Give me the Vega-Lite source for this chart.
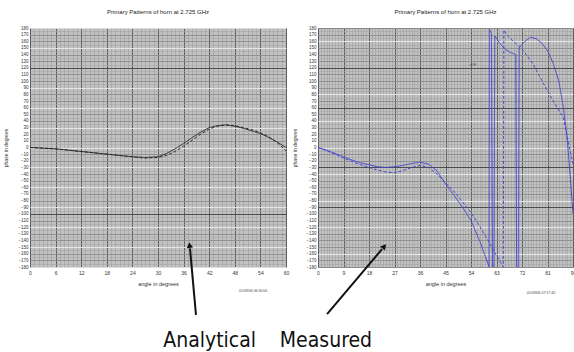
{
  "$schema": "https://vega.github.io/schema/vega-lite/v6.json",
  "background": "white",
  "padding": {"left": 3, "top": 8, "right": 0, "bottom": 0},
  "spacing": 32,
  "bounds": "flush",
  "config": {
    "view": {"fill": "#c2c2c2", "stroke": "#555", "strokeWidth": 1},
    "font": "Liberation Sans",
    "title": {"fontSize": 6, "fontWeight": "normal", "color": "#222", "offset": 10},
    "axis": {"ticks": false, "domain": false, "labelColor": "#333", "titleColor": "#333", "titleFontWeight": "normal", "labelOverlap": false, "labelBound": false, "labelFlush": false}
  },
  "datasets": {
    "analytical": [
      {"series": "A", "angle": 0, "phase": 0}, {"series": "A", "angle": 3, "phase": -1}, {"series": "A", "angle": 6, "phase": -2},
      {"series": "A", "angle": 9, "phase": -4}, {"series": "A", "angle": 12, "phase": -6}, {"series": "A", "angle": 15, "phase": -8},
      {"series": "A", "angle": 18, "phase": -10}, {"series": "A", "angle": 21, "phase": -12}, {"series": "A", "angle": 24, "phase": -14},
      {"series": "A", "angle": 27, "phase": -15}, {"series": "A", "angle": 30, "phase": -14}, {"series": "A", "angle": 32, "phase": -9},
      {"series": "A", "angle": 34, "phase": -2}, {"series": "A", "angle": 36, "phase": 6}, {"series": "A", "angle": 38, "phase": 15},
      {"series": "A", "angle": 40, "phase": 23}, {"series": "A", "angle": 42, "phase": 30}, {"series": "A", "angle": 44, "phase": 33},
      {"series": "A", "angle": 46, "phase": 34}, {"series": "A", "angle": 48, "phase": 32}, {"series": "A", "angle": 50, "phase": 29},
      {"series": "A", "angle": 52, "phase": 25}, {"series": "A", "angle": 54, "phase": 21}, {"series": "A", "angle": 56, "phase": 15},
      {"series": "A", "angle": 58, "phase": 8}, {"series": "A", "angle": 60, "phase": 0},
      {"series": "B", "angle": 0, "phase": 0}, {"series": "B", "angle": 3, "phase": -1}, {"series": "B", "angle": 6, "phase": -2},
      {"series": "B", "angle": 9, "phase": -4}, {"series": "B", "angle": 12, "phase": -6}, {"series": "B", "angle": 15, "phase": -8},
      {"series": "B", "angle": 18, "phase": -10}, {"series": "B", "angle": 21, "phase": -12}, {"series": "B", "angle": 24, "phase": -14},
      {"series": "B", "angle": 27, "phase": -16}, {"series": "B", "angle": 30, "phase": -15}, {"series": "B", "angle": 32, "phase": -12},
      {"series": "B", "angle": 34, "phase": -6}, {"series": "B", "angle": 36, "phase": 2}, {"series": "B", "angle": 38, "phase": 11},
      {"series": "B", "angle": 40, "phase": 20}, {"series": "B", "angle": 42, "phase": 28}, {"series": "B", "angle": 44, "phase": 32},
      {"series": "B", "angle": 46, "phase": 34}, {"series": "B", "angle": 48, "phase": 33}, {"series": "B", "angle": 50, "phase": 30},
      {"series": "B", "angle": 52, "phase": 27}, {"series": "B", "angle": 54, "phase": 22}, {"series": "B", "angle": 56, "phase": 16},
      {"series": "B", "angle": 58, "phase": 7}, {"series": "B", "angle": 60, "phase": -5}
    ],
    "measured": [
      {"series": "A", "angle": 0, "phase": 0}, {"series": "A", "angle": 3, "phase": -4}, {"series": "A", "angle": 6, "phase": -9},
      {"series": "A", "angle": 9, "phase": -14}, {"series": "A", "angle": 12, "phase": -19}, {"series": "A", "angle": 15, "phase": -23},
      {"series": "A", "angle": 18, "phase": -26}, {"series": "A", "angle": 21, "phase": -29}, {"series": "A", "angle": 24, "phase": -30},
      {"series": "A", "angle": 27, "phase": -29}, {"series": "A", "angle": 30, "phase": -27}, {"series": "A", "angle": 33, "phase": -24},
      {"series": "A", "angle": 36, "phase": -22}, {"series": "A", "angle": 39, "phase": -25}, {"series": "A", "angle": 42, "phase": -35},
      {"series": "A", "angle": 45, "phase": -55}, {"series": "A", "angle": 48, "phase": -72}, {"series": "A", "angle": 51, "phase": -90},
      {"series": "A", "angle": 54, "phase": -110}, {"series": "A", "angle": 57, "phase": -140}, {"series": "A", "angle": 59, "phase": -163},
      {"series": "A", "angle": 60.4, "phase": -180}, {"series": "A", "angle": 60.5, "phase": 178}, {"series": "A", "angle": 61.2, "phase": 172},
      {"series": "A", "angle": 61.6, "phase": -180}, {"series": "A", "angle": 62.1, "phase": -180}, {"series": "A", "angle": 62.4, "phase": 168},
      {"series": "A", "angle": 64, "phase": 158}, {"series": "A", "angle": 66, "phase": 148}, {"series": "A", "angle": 68, "phase": 143},
      {"series": "A", "angle": 69.8, "phase": 140}, {"series": "A", "angle": 70.1, "phase": -180}, {"series": "A", "angle": 70.7, "phase": -180},
      {"series": "A", "angle": 71, "phase": 150}, {"series": "A", "angle": 73, "phase": 160}, {"series": "A", "angle": 75, "phase": 166},
      {"series": "A", "angle": 77, "phase": 164}, {"series": "A", "angle": 79, "phase": 157}, {"series": "A", "angle": 81, "phase": 146},
      {"series": "A", "angle": 83, "phase": 127}, {"series": "A", "angle": 85, "phase": 100}, {"series": "A", "angle": 86.6, "phase": 60},
      {"series": "A", "angle": 87.8, "phase": 20}, {"series": "A", "angle": 88.6, "phase": -20}, {"series": "A", "angle": 89.3, "phase": -60},
      {"series": "A", "angle": 90, "phase": -100},
      {"series": "B", "angle": 0, "phase": 0}, {"series": "B", "angle": 3, "phase": -5}, {"series": "B", "angle": 6, "phase": -10},
      {"series": "B", "angle": 9, "phase": -16}, {"series": "B", "angle": 12, "phase": -21}, {"series": "B", "angle": 15, "phase": -26},
      {"series": "B", "angle": 18, "phase": -30}, {"series": "B", "angle": 21, "phase": -34}, {"series": "B", "angle": 24, "phase": -37},
      {"series": "B", "angle": 27, "phase": -38}, {"series": "B", "angle": 30, "phase": -35}, {"series": "B", "angle": 33, "phase": -30},
      {"series": "B", "angle": 36, "phase": -27}, {"series": "B", "angle": 39, "phase": -30}, {"series": "B", "angle": 42, "phase": -40},
      {"series": "B", "angle": 45, "phase": -53}, {"series": "B", "angle": 48, "phase": -66}, {"series": "B", "angle": 51, "phase": -82},
      {"series": "B", "angle": 54, "phase": -98}, {"series": "B", "angle": 57, "phase": -118}, {"series": "B", "angle": 60, "phase": -140},
      {"series": "B", "angle": 63, "phase": -163}, {"series": "B", "angle": 65.4, "phase": -180}, {"series": "B", "angle": 65.6, "phase": 177},
      {"series": "B", "angle": 67, "phase": 168}, {"series": "B", "angle": 69, "phase": 160}, {"series": "B", "angle": 72.5, "phase": 146},
      {"series": "B", "angle": 76, "phase": 125}, {"series": "B", "angle": 79.5, "phase": 97}, {"series": "B", "angle": 83, "phase": 70},
      {"series": "B", "angle": 86.6, "phase": 45}, {"series": "B", "angle": 88, "phase": 15}, {"series": "B", "angle": 89, "phase": -5},
      {"series": "B", "angle": 90, "phase": -25}
    ]
  },
  "hconcat": [
    {
      "width": 256,
      "height": 239,
      "title": "Primary Patterns of horn at  2.725 GHz",
      "resolve": {"axis": {"x": "independent", "y": "independent"}},
      "layer": [
        {
          "data": {"values": [{}]},
          "mark": {"type": "rule", "strokeWidth": 2, "color": "#111", "clip": false},
          "encoding": {
            "x": {"datum": 38.9, "type": "quantitative", "scale": {"domain": [0, 60], "nice": false, "zero": false},
                  "axis": {"orient": "top", "tickCount": 60, "labels": false, "title": null, "grid": true, "gridColor": "#9c9c9c", "gridWidth": 0.6}},
            "y": {"datum": -252, "type": "quantitative", "scale": {"domain": [-180, 180], "nice": false, "zero": false},
                  "axis": {"orient": "right", "tickCount": 72, "labels": false, "title": null, "grid": true, "gridColor": "#a6a6a6", "gridWidth": 0.6}},
            "x2": {"datum": 37.5},
            "y2": {"datum": -152}
          }
        },
        {
          "data": {"name": "analytical"},
          "mark": {"type": "line", "color": "#2a2a2a", "strokeWidth": 1, "clip": true},
          "encoding": {
            "x": {"field": "angle", "type": "quantitative", "scale": {"domain": [0, 60], "nice": false, "zero": false},
                  "axis": {"orient": "bottom", "values": [0, 6, 12, 18, 24, 30, 36, 42, 48, 54, 60], "grid": true, "gridColor": "#4a4a4a", "gridWidth": 0.8,
                           "labelFontSize": 5, "labelPadding": 3, "title": "angle in degrees", "titleFontSize": 5.5, "titlePadding": 6}},
            "y": {"field": "phase", "type": "quantitative", "scale": {"domain": [-180, 180], "nice": false, "zero": false},
                  "axis": {"orient": "left", "tickCount": 36, "grid": true, "gridWidth": 0.8,
                           "gridColor": {"condition": [{"test": "datum.value === 120 || datum.value === -100", "value": "#333333"}, {"test": "datum.value % 30 === 0", "value": "#f2f2f2"}], "value": "#8a8a8a"},
                           "labelFontSize": 4.5, "labelPadding": 2, "title": "phase in degrees", "titleFontSize": 5, "titlePadding": 9}},
            "strokeDash": {"field": "series", "type": "nominal", "scale": {"domain": ["A", "B"], "range": [[1, 0], [3, 2]]}, "legend": null}
          }
        },
        {
          "data": {"values": [{}]},
          "mark": {"type": "point", "shape": "triangle-up", "filled": true, "color": "#111", "opacity": 1, "size": 40, "angle": -6, "clip": false},
          "encoding": {
            "x": {"datum": 37.4, "type": "quantitative", "axis": null},
            "y": {"datum": -147, "type": "quantitative", "axis": null}
          }
        },
        {
          "data": {"values": [{}]},
          "mark": {"type": "text", "text": "Analytical", "fontSize": 21, "font": "Liberation Sans Narrow, DejaVu Sans Condensed, sans-serif", "color": "#111", "align": "center", "baseline": "alphabetic", "clip": false},
          "encoding": {
            "x": {"datum": 42.1, "type": "quantitative", "axis": null},
            "y": {"datum": -301, "type": "quantitative", "axis": null}
          }
        },
        {
          "data": {"values": [{}]},
          "mark": {"type": "text", "text": "01/09/06 06:30:00", "fontSize": 3.5, "color": "#444", "align": "center", "baseline": "middle", "clip": false},
          "encoding": {
            "x": {"datum": 52.3, "type": "quantitative", "axis": null},
            "y": {"datum": -216, "type": "quantitative", "axis": null}
          }
        }
      ]
    },
    {
      "width": 255,
      "height": 239,
      "title": "Primary Patterns of horn at  2.725 GHz",
      "resolve": {"axis": {"x": "independent", "y": "independent"}},
      "layer": [
        {
          "data": {"values": [{}]},
          "mark": {"type": "rule", "strokeWidth": 2, "color": "#111", "clip": false},
          "encoding": {
            "x": {"datum": 3.2, "type": "quantitative", "scale": {"domain": [0, 90], "nice": false, "zero": false},
                  "axis": {"orient": "top", "tickCount": 90, "labels": false, "title": null, "grid": true, "gridColor": "#9c9c9c", "gridWidth": 0.6}},
            "y": {"datum": -251, "type": "quantitative", "scale": {"domain": [-180, 180], "nice": false, "zero": false},
                  "axis": {"orient": "right", "tickCount": 72, "labels": false, "title": null, "grid": true, "gridColor": "#a6a6a6", "gridWidth": 0.6}},
            "x2": {"datum": 22.6},
            "y2": {"datum": -153}
          }
        },
        {
          "data": {"name": "measured"},
          "mark": {"type": "line", "color": "#4646d2", "strokeWidth": 1, "clip": true},
          "encoding": {
            "x": {"field": "angle", "type": "quantitative", "scale": {"domain": [0, 90], "nice": false, "zero": false},
                  "axis": {"orient": "bottom", "values": [0, 9, 18, 27, 36, 45, 54, 63, 72, 81, 90], "grid": true, "gridColor": "#4a4a4a", "gridWidth": 0.8,
                           "labelFontSize": 5, "labelPadding": 3, "title": "angle in degrees", "titleFontSize": 5.5, "titlePadding": 6}},
            "y": {"field": "phase", "type": "quantitative", "scale": {"domain": [-180, 180], "nice": false, "zero": false},
                  "axis": {"orient": "left", "tickCount": 36, "grid": true, "gridWidth": 0.8,
                           "gridColor": {"condition": [{"test": "datum.value === 120 || datum.value === 60 || datum.value === -30 || datum.value === -90", "value": "#333333"}, {"test": "datum.value % 40 === 0", "value": "#f2f2f2"}], "value": "#8a8a8a"},
                           "labelFontSize": 4.5, "labelPadding": 2, "title": "phase in degrees", "titleFontSize": 5, "titlePadding": 8}},
            "strokeDash": {"field": "series", "type": "nominal", "scale": {"domain": ["A", "B"], "range": [[1, 0], [3, 2]]}, "legend": null}
          }
        },
        {
          "data": {"values": [{}]},
          "mark": {"type": "point", "shape": "triangle-up", "filled": true, "color": "#111", "opacity": 1, "size": 40, "angle": 40, "clip": false},
          "encoding": {
            "x": {"datum": 23.4, "type": "quantitative", "axis": null},
            "y": {"datum": -149, "type": "quantitative", "axis": null}
          }
        },
        {
          "data": {"values": [{}]},
          "mark": {"type": "text", "text": "Measured", "fontSize": 21, "font": "Liberation Sans Narrow, DejaVu Sans Condensed, sans-serif", "color": "#111", "align": "center", "baseline": "alphabetic", "clip": false},
          "encoding": {
            "x": {"datum": 2.8, "type": "quantitative", "axis": null},
            "y": {"datum": -301, "type": "quantitative", "axis": null}
          }
        },
        {
          "data": {"values": [{}]},
          "mark": {"type": "text", "text": "01/09/06 07:17:40", "fontSize": 3.5, "color": "#444", "align": "center", "baseline": "middle", "clip": false},
          "encoding": {
            "x": {"datum": 78.7, "type": "quantitative", "axis": null},
            "y": {"datum": -219, "type": "quantitative", "axis": null}
          }
        },
        {
          "data": {"values": [{}]},
          "mark": {"type": "text", "text": "sl F", "fontSize": 4, "color": "#333", "align": "center", "baseline": "middle", "clip": false},
          "encoding": {
            "x": {"datum": 54.7, "type": "quantitative", "axis": null},
            "y": {"datum": 124, "type": "quantitative", "axis": null}
          }
        }
      ]
    }
  ]
}
